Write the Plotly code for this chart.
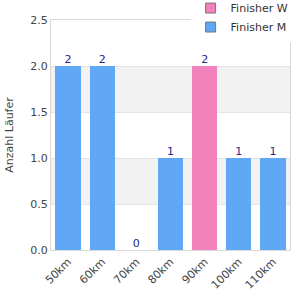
import plotly.graph_objects as go

categories = ["50km", "60km", "70km", "80km", "90km", "100km", "110km"]
finisher_w = [0, 0, 0, 0, 2, 0, 0]
finisher_m = [2, 2, 0, 1, 0, 1, 1]
totals = [w + m for w, m in zip(finisher_w, finisher_m)]
y_ticks = [0.0, 0.5, 1.0, 1.5, 2.0, 2.5]

blue = "#60A8F5"
pink = "#F282BC"

fig = go.Figure()
fig.add_trace(go.Bar(x=categories, y=finisher_m, marker=dict(color=blue, line=dict(width=0)),
                     showlegend=False, width=0.74, hoverinfo="skip"))
fig.add_trace(go.Bar(x=categories, y=finisher_w, marker=dict(color=pink, line=dict(width=0)),
                     showlegend=False, width=0.74, hoverinfo="skip"))
fig.add_trace(go.Scatter(x=categories, y=totals, mode="text", text=[str(t) for t in totals],
                         textposition="top center", textfont=dict(color="#1C2A8A", size=11),
                         showlegend=False, cliponaxis=False))
# legend entries
fig.add_trace(go.Scatter(x=[None], y=[None], mode="markers", name="Finisher W",
                         marker=dict(symbol="square", size=10, color=pink, line=dict(color="#777", width=1))))
fig.add_trace(go.Scatter(x=[None], y=[None], mode="markers", name="Finisher M",
                         marker=dict(symbol="square", size=10, color=blue, line=dict(color="#777", width=1))))

# alternating bands
for i in range(len(y_ticks) - 1):
    if i % 2 == 1:
        fig.add_shape(type="rect", xref="paper", yref="y", x0=0, x1=1,
                      y0=y_ticks[i], y1=y_ticks[i + 1], fillcolor="#F2F2F2",
                      line=dict(width=0), layer="below")

fig.update_layout(
    width=300, height=300,
    margin=dict(l=51, r=10, t=20, b=50, autoexpand=False),
    barmode="stack",
    plot_bgcolor="white", paper_bgcolor="white",
    font=dict(family="DejaVu Sans", size=11, color="#444"),
    legend=dict(x=1.015, xanchor="right", y=1.115, yanchor="top", bgcolor="white",
                traceorder="normal",
                font=dict(size=11, color="#333"), itemwidth=30, tracegroupgap=0),
    xaxis=dict(tickangle=-45, showline=True, linecolor="#D8D8D8", mirror=True,
               ticks="", tickfont=dict(size=11, color="#444"), showgrid=False),
    yaxis=dict(range=[0, 2.5], tickvals=y_ticks, ticktext=[f"{v:.1f}" for v in y_ticks],
               showline=True, linecolor="#D8D8D8", mirror=True, gridcolor="#E4E4E4",
               zeroline=False, title=dict(text="Anzahl Läufer", font=dict(size=11, color="#444"), standoff=14),
               tickfont=dict(size=11, color="#444")),
    bargap=0.26,
)
fig.write_html("out.html")
